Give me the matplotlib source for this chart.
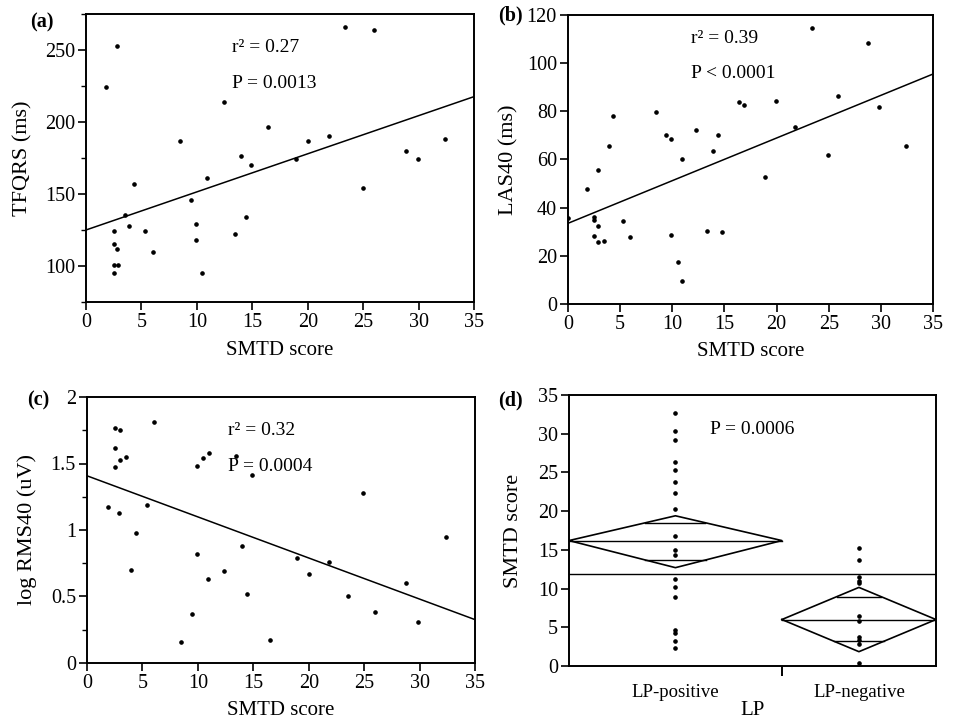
import numpy as np
import matplotlib.pyplot as plt
from matplotlib.ticker import MultipleLocator

plt.rcParams['font.family'] = ['Liberation Serif', 'DejaVu Serif']
plt.rcParams['font.size'] = 14

# (a) TFQRS vs SMTD score
a_x = [1.8, 2.8, 2.5, 2.5, 2.8, 2.5, 2.9, 2.5, 3.5, 3.9, 4.3, 5.35, 6.0, 8.5, 9.5,
       9.9, 9.9, 10.5, 10.9, 12.4, 13.4, 14.0, 14.4, 14.9, 16.4, 18.9, 20.0, 21.9,
       23.4, 25.0, 26.0, 28.9, 29.9, 32.4]
a_y = [224, 253, 124.5, 115.5, 112, 101, 101, 95, 135.5, 128, 157, 124.5, 110, 186.5,
       145.5, 129, 118, 95, 161, 214, 122, 176.5, 134, 170, 196.5, 174, 186.5, 190.5,
       266, 154, 264, 179.5, 174.5, 188.5]
a_fit = [125.0, 2.646]   # intercept, slope

# (b) LAS40 vs SMTD score
b_x = [0.0, 1.85, 2.45, 2.45, 2.45, 2.9, 2.9, 2.9, 3.45, 3.9, 4.3, 5.3, 5.9, 8.4,
       9.4, 9.9, 9.9, 10.5, 10.9, 10.9, 12.3, 13.3, 13.9, 14.4, 14.8, 16.4, 16.9,
       18.9, 19.9, 21.8, 23.4, 24.9, 25.9, 28.8, 29.8, 32.4]
b_y = [35.6, 47.6, 36.3, 34.9, 28.2, 55.5, 32.4, 25.6, 26.3, 65.5, 78.2, 34.3, 27.8,
       79.6, 70.3, 68.4, 28.5, 17.6, 60.3, 9.7, 72.2, 30.4, 63.7, 70.3, 29.8, 83.7,
       82.5, 52.6, 84.3, 73.6, 114.5, 61.7, 86.5, 108.5, 81.7, 65.6]
b_fit = [33.5, 1.771]

# (c) log RMS40 vs SMTD score
c_x = [2.5, 3.0, 2.5, 2.5, 3.0, 3.5, 6.0, 1.9, 2.9, 5.45, 4.4, 4.0, 8.5, 9.5, 9.9,
       9.9, 10.5, 11.0, 10.9, 12.4, 13.4, 14.0, 14.4, 14.9, 16.5, 18.9, 20.0, 21.8,
       23.5, 24.9, 26.0, 28.8, 29.9, 32.4]
c_y = [1.77, 1.75, 1.62, 1.47, 1.53, 1.55, 1.815, 1.17, 1.125, 1.19, 0.98, 0.70,
       0.155, 0.37, 0.82, 1.48, 1.54, 1.58, 0.635, 0.69, 1.555, 0.88, 0.52, 1.41,
       0.175, 0.79, 0.67, 0.76, 0.50, 1.28, 0.385, 0.60, 0.31, 0.945]
c_fit = [1.4075, -0.0309]

# (d) SMTD score by LP group
d_groups = ['LP-positive', 'LP-negative']
d_pos = [32.7, 30.35, 29.2, 26.35, 25.3, 23.7, 22.3, 20.3, 16.8, 15.0, 14.3, 11.3,
         10.2, 8.9, 4.7, 4.3, 3.2, 2.3]
d_neg = [15.3, 13.7, 11.45, 11.0, 10.7, 6.4, 5.85, 3.8, 3.35, 2.9, 0.35]
d_mean = [16.2, 6.0]
d_upper = [19.4, 10.15]
d_lower = [12.7, 1.85]
d_overlap_hi = [18.5, 8.95]
d_overlap_lo = [13.7, 3.2]
d_grand_mean = 11.9

fig = plt.figure(figsize=(9.55, 7.2), dpi=100)
ax_a = fig.add_axes([0.0901, 0.5806, 0.4063, 0.40])
ax_b = fig.add_axes([0.5948, 0.5778, 0.3822, 0.4014])
ax_c = fig.add_axes([0.0911, 0.0792, 0.4063, 0.3694])
ax_d = fig.add_axes([0.5958, 0.0750, 0.3843, 0.3764])


def style(ax):
    for s in ax.spines.values():
        s.set_linewidth(1.4)
    ax.tick_params(direction='out', length=6, width=1.2, labelsize=14.5, pad=2)
    ax.tick_params(which='minor', direction='out', length=3.5, width=1.0)


def scatter_panel(ax, x, y, fit, ylim):
    ax.plot(x, y, 'o', color='black', markersize=2.3, linestyle='none')
    xs = np.array([0, 35])
    ax.plot(xs, fit[0] + fit[1] * xs, color='black', lw=1.1)
    ax.set_xlim(0, 35)
    ax.set_ylim(*ylim)
    ax.xaxis.set_major_locator(MultipleLocator(5))
    ax.set_xlabel('SMTD score', fontsize=15)
    style(ax)


scatter_panel(ax_a, a_x, a_y, a_fit, (75, 275))
ax_a.yaxis.set_major_locator(MultipleLocator(50))
ax_a.yaxis.set_minor_locator(MultipleLocator(25))
ax_a.set_yticks([100, 150, 200, 250])
ax_a.set_ylabel('TFQRS (ms)', fontsize=16)
ax_a.text(13.2, 252, 'r² = 0.27', fontsize=14, va='center')
ax_a.text(13.2, 227, 'P = 0.0013', fontsize=14, va='center')

scatter_panel(ax_b, b_x, b_y, b_fit, (0, 120))
ax_b.yaxis.set_major_locator(MultipleLocator(20))
ax_b.set_ylabel('LAS40 (ms)', fontsize=16)
ax_b.text(11.8, 110.3, 'r² = 0.39', fontsize=14, va='center')
ax_b.text(11.8, 95.5, 'P < 0.0001', fontsize=14, va='center')

scatter_panel(ax_c, c_x, c_y, c_fit, (0, 2))
ax_c.yaxis.set_major_locator(MultipleLocator(0.5))
ax_c.yaxis.set_minor_locator(MultipleLocator(0.25))
ax_c.set_yticks([0, 0.5, 1, 1.5, 2])
ax_c.set_yticklabels(['0', '0.5', '1', '1.5', '2'])
ax_c.set_ylabel('log RMS40 (uV)', fontsize=16)
ax_c.text(12.7, 1.75, 'r² = 0.32', fontsize=14, va='center')
ax_c.text(12.7, 1.475, 'P = 0.0004', fontsize=14, va='center')

# (d) means diamonds, group widths as in the figure
edges = [(0.0, 0.58), (0.58, 1.0)]
for (x0, x1), pts, m, up, lo, oh, ol in zip(edges, [d_pos, d_neg], d_mean,
                                             d_upper, d_lower, d_overlap_hi, d_overlap_lo):
    xc = (x0 + x1) / 2
    hw = (x1 - x0) / 2
    ax_d.plot([xc] * len(pts), pts, 'o', color='black', markersize=2.3, linestyle='none')
    ax_d.plot([x0, xc, x1, xc, x0], [m, up, m, lo, m], color='black', lw=1.2)
    ax_d.plot([x0, x1], [m, m], color='black', lw=1.0)
    for yv, ext in [(oh, up), (ol, lo)]:
        w = hw * (1 - abs(yv - m) / abs(ext - m))
        ax_d.plot([xc - w, xc + w], [yv, yv], color='black', lw=1.0)
ax_d.axhline(d_grand_mean, color='black', lw=1.0)
ax_d.set_xlim(0, 1)
ax_d.set_ylim(0, 35)
ax_d.yaxis.set_major_locator(MultipleLocator(5))
ax_d.set_xticks([(e[0] + e[1]) / 2 for e in edges])
ax_d.set_xticklabels(d_groups)
ax_d.set_xticks([edges[0][1]], minor=True)
style(ax_d)
ax_d.tick_params(axis='x', which='major', length=0, pad=13, labelsize=13.5)
ax_d.tick_params(axis='x', which='minor', length=7, width=1.4)
ax_d.set_ylabel('SMTD score', fontsize=16)
ax_d.set_xlabel('LP', fontsize=15)
ax_d.text(0.383, 30.5, 'P = 0.0006', fontsize=14, va='center')

ax_a.yaxis.set_label_coords(-0.139, 0.5)
ax_b.yaxis.set_label_coords(-0.137, 0.5)
ax_c.yaxis.set_label_coords(-0.129, 0.5)
ax_d.yaxis.set_label_coords(-0.125, 0.5)
ax_a.xaxis.set_label_coords(0.5, -0.135)
ax_b.xaxis.set_label_coords(0.5, -0.130)
ax_c.xaxis.set_label_coords(0.5, -0.142)
ax_d.xaxis.set_label_coords(0.5, -0.128)

for lab, xf, yf in [('(a)', 0.044, 0.969), ('(b)', 0.534, 0.979),
                    ('(c)', 0.040, 0.444), ('(d)', 0.534, 0.444)]:
    fig.text(xf, yf, lab, fontsize=14.5, fontweight='bold', ha='center', va='center')

fig.savefig('out.png', dpi=100)
